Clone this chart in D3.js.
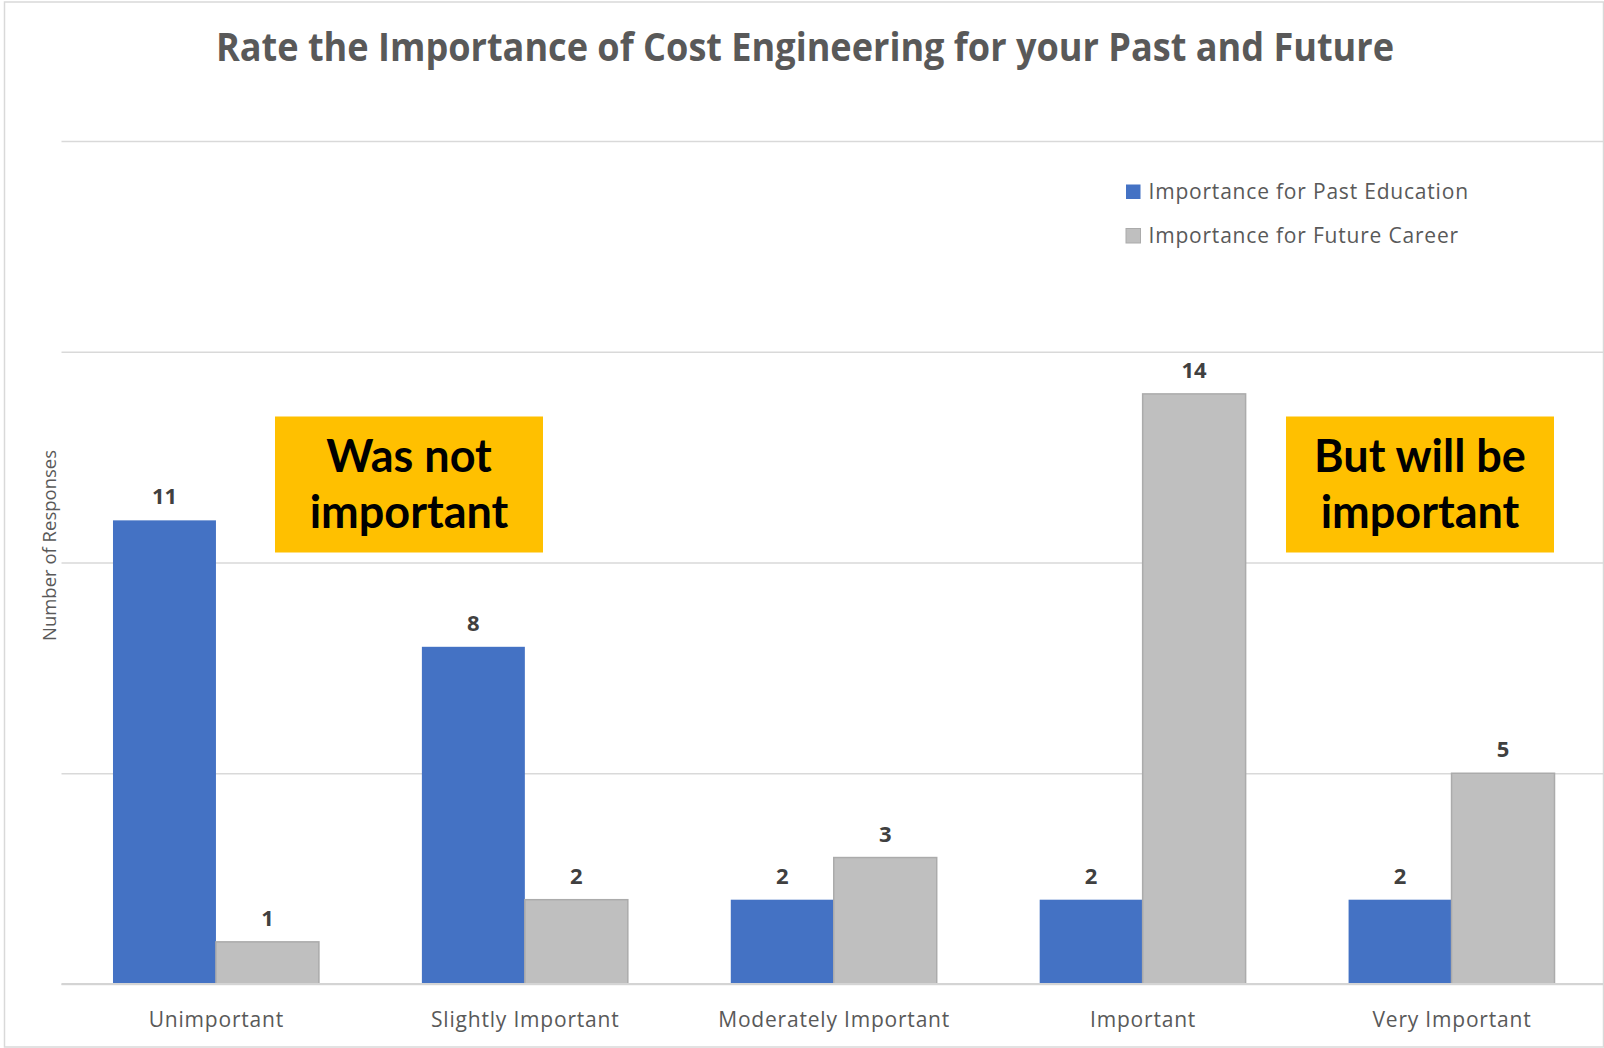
<!DOCTYPE html>
<html>
<head>
<meta charset="utf-8">
<script src="https://cdn.jsdelivr.net/npm/d3@7"></script>
<style>
  html, body { margin: 0; padding: 0; background: #ffffff; }
  svg { display: block; }
</style>
</head>
<body>
<svg id="chart" width="1604" height="1048"></svg>
<script>
// Survey answers: how important cost engineering was (past) and will be (future)
const categories = ["Unimportant", "Slightly Important", "Moderately Important", "Important", "Very Important"];
const pastEducation = [11, 8, 2, 2, 2];
const futureCareer = [1, 2, 3, 14, 5];
const seriesNames = ["Importance for Past Education", "Importance for Future Career"];
const yTicks = [0, 5, 10, 15, 20];
const callouts = [
  { lines: ["Was not", "important"] },
  { lines: ["But will be", "important"] }
];

const W = 1604, H = 1048;
const plot = { left: 61.5, right: 1606, top: 141, bottom: 984 };
const colors = ["#4472C4", "#BFBFBF"];
const strokes = ["none", "#ABABAB"];
const textGrey = "#595959";

const svg = d3.select("#chart");

// Chart frame
svg.append("rect")
  .attr("x", 4.5).attr("y", 2)
  .attr("width", W - 5).attr("height", H - 3)
  .attr("fill", "#fff").attr("stroke", "#D9D9D9").attr("stroke-width", 1.5);

const x0 = d3.scaleBand().domain(categories).range([plot.left, plot.right]).paddingInner(0).paddingOuter(0);
const gap = x0.bandwidth() / 3; // gap width 100%
const x1 = d3.scaleBand().domain([0, 1])
  .range([gap / 2, x0.bandwidth() - gap / 2]).padding(0);
const y = d3.scaleLinear().domain([0, 20]).range([plot.bottom, plot.top]);

// Horizontal gridlines
const grid = d3.axisLeft(y).tickValues(yTicks).tickSize(-(W - 1 - plot.left)).tickFormat("");
svg.append("g")
  .attr("transform", `translate(${plot.left},0)`)
  .call(grid)
  .call(g => g.select(".domain").remove())
  .call(g => g.selectAll("line").attr("stroke", "#D9D9D9").attr("stroke-width", 1.5));

// Title
svg.append("text")
  .attr("x", 805).attr("y", 61)
  .attr("text-anchor", "middle")
  .attr("font-family", "'Open Sans', sans-serif")
  .attr("font-weight", 700)
  .attr("font-size", 40)
  .attr("textLength", 1178)
  .attr("lengthAdjust", "spacingAndGlyphs")
  .attr("fill", textGrey)
  .text("Rate the Importance of Cost Engineering for your Past and Future");

// Bars
const rows = categories.map((c, i) => ({ cat: c, vals: [pastEducation[i], futureCareer[i]] }));
const groups = svg.append("g").selectAll("g")
  .data(rows).join("g")
  .attr("transform", d => `translate(${x0(d.cat)},0)`);

groups.selectAll("rect")
  .data(d => d.vals.map((v, s) => ({ v, s })))
  .join("rect")
  .attr("x", d => x1(d.s))
  .attr("y", d => y(d.v))
  .attr("width", x1.bandwidth())
  .attr("height", d => y(0) - y(d.v))
  .attr("fill", d => colors[d.s])
  .attr("stroke", d => strokes[d.s])
  .attr("stroke-width", 1.5);

groups.selectAll("text.val")
  .data(d => d.vals.map((v, s) => ({ v, s })))
  .join("text")
  .attr("class", "val")
  .attr("x", d => x1(d.s) + x1.bandwidth() / 2)
  .attr("y", d => y(d.v) - 16)
  .attr("text-anchor", "middle")
  .attr("font-family", "'Open Sans', sans-serif")
  .attr("font-weight", 700)
  .attr("font-size", 22)
  .attr("fill", "#404040")
  .text(d => d.v);

// Baseline axis with category labels
const xAxis = d3.axisBottom(x0).tickSize(0).tickPadding(0);
svg.append("g")
  .attr("transform", `translate(0,${plot.bottom})`)
  .call(xAxis)
  .call(g => g.select(".domain").attr("d", `M${plot.left},0H${W - 1}`).attr("stroke", "#D4D4D4").attr("stroke-width", 2))
  .call(g => g.selectAll("text")
    .attr("y", 43).attr("dy", 0)
    .attr("dx", 0.4)
    .attr("font-family", "'Open Sans', sans-serif")
    .attr("font-size", 21)
    .attr("letter-spacing", 0.8)
    .attr("fill", textGrey));

// Y axis title
svg.append("text")
  .attr("transform", "translate(55.5,545.5) rotate(-90)")
  .attr("text-anchor", "middle")
  .attr("font-family", "'Open Sans', sans-serif")
  .attr("font-size", 18.5)
  .attr("fill", textGrey)
  .text("Number of Responses");

// Legend
const legend = svg.append("g").attr("transform", "translate(1126,184.5)");
seriesNames.forEach((name, i) => {
  const g = legend.append("g").attr("transform", `translate(0,${i * 44})`);
  g.append("rect")
    .attr("width", 14.5).attr("height", 14.5)
    .attr("fill", colors[i])
    .attr("stroke", i === 1 ? "#ABABAB" : "none").attr("stroke-width", 1);
  g.append("text")
    .attr("x", 22.5).attr("y", 14)
    .attr("font-family", "'Open Sans', sans-serif")
    .attr("font-size", 21)
    .attr("letter-spacing", 0.8)
    .attr("fill", textGrey)
    .text(name);
});

// Callout boxes
const boxW = 268, boxH = 136, boxTop = 416.5;
const boxLeft = [275, 1286];
callouts.forEach((c, k) => {
  const g = svg.append("g").attr("transform", `translate(${boxLeft[k]},${boxTop})`);
  g.append("rect").attr("width", boxW).attr("height", boxH).attr("fill", "#FFC000");
  c.lines.forEach((line, j) => {
    g.append("text")
      .attr("x", boxW / 2).attr("y", 55 + j * 56)
      .attr("text-anchor", "middle")
      .attr("font-family", "Lato, sans-serif")
      .attr("font-weight", 700)
      .attr("font-size", 45)
      .attr("fill", "#000")
      .text(line);
  });
});
</script>
</body>
</html>
